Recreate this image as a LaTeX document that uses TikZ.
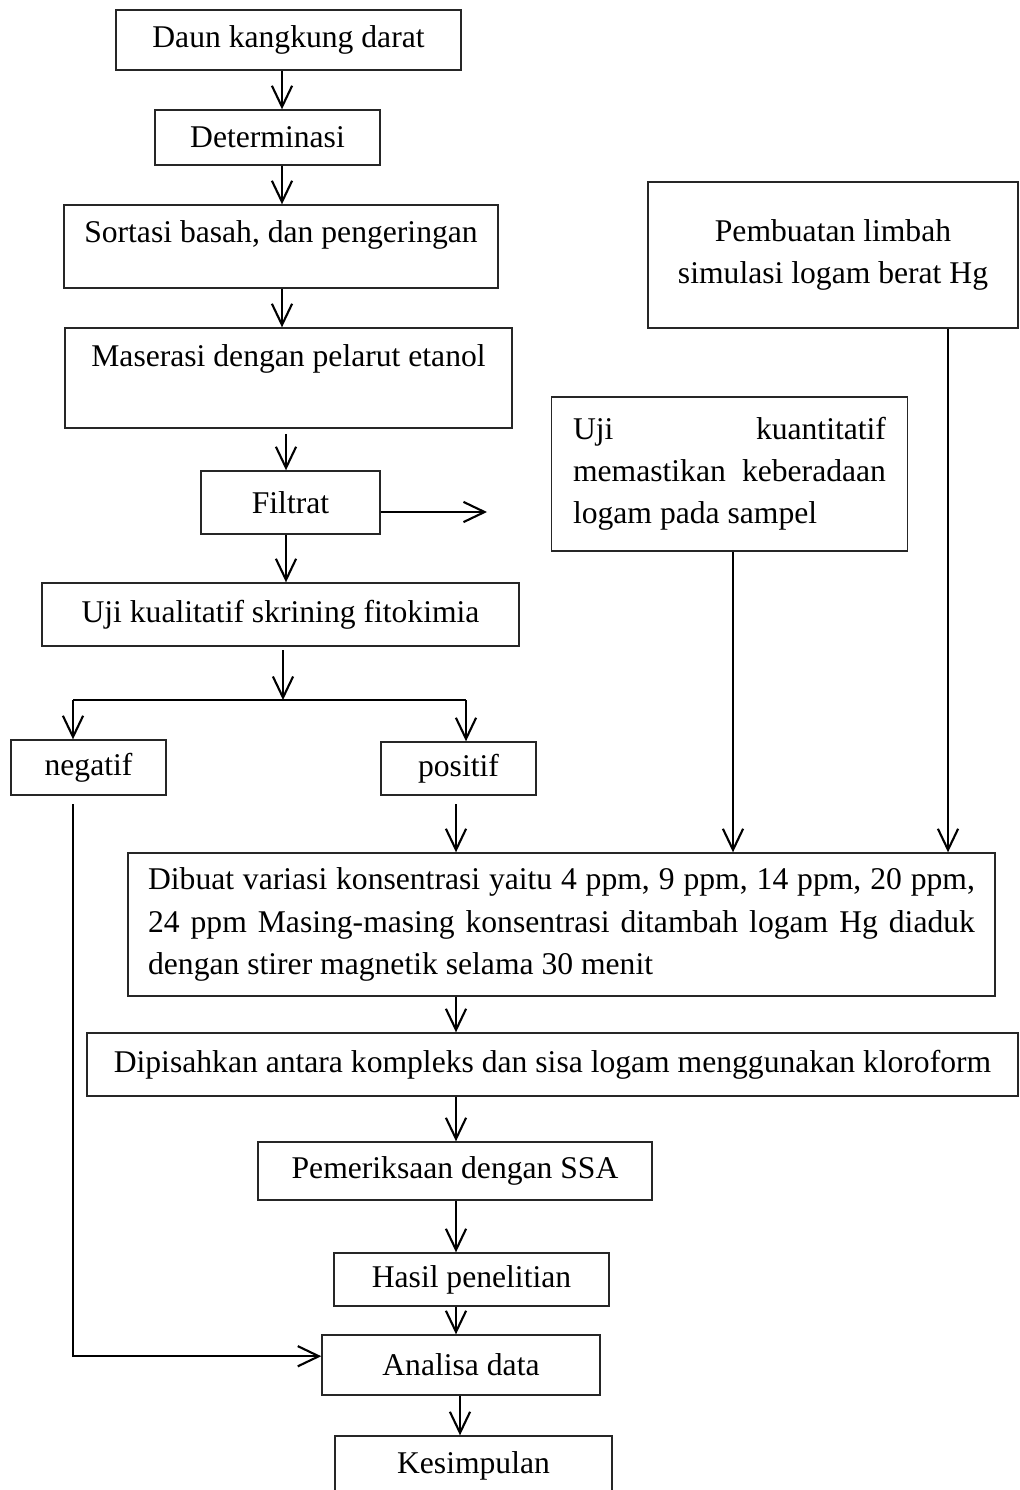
\documentclass[tikz,border=0pt]{standalone}
\usepackage{fontspec}
\setmainfont{Liberation Serif}
\usetikzlibrary{arrows.meta}

\begin{document}
\begin{tikzpicture}[x=0.02cm, y=-0.02cm,
	kotak/.style 2 args={draw=black!85, line width=0.8pt, inner sep=0pt,
		minimum width=#1*0.02cm, minimum height=#2*0.02cm,
		font=\fontsize{18}{24}\selectfont},
	panah/.style={line width=1.2pt, -{Straight Barb[length=12pt,width=11.5pt]}},
	garis/.style={line width=1.2pt}]
	\useasboundingbox (0,0) rectangle (1019,1490);
	% kolom panah
	\coordinate (kolA) at (282,0);
	\coordinate (kolB) at (286,0);
	\coordinate (kolN) at (73,0);
	\coordinate (kolP) at (466,0);
	\coordinate (kolC) at (456,0);
	\coordinate (kolD) at (460,0);
	\coordinate (kolQ) at (733,0);
	\coordinate (kolH) at (948,0);
	\coordinate (cabang) at (283,700);
	\coordinate (keluar) at (487,512);
	% kotak kiri
	\node[kotak={345}{60}] (daun) at (288.5,40) {Daun kangkung darat};
	\node[kotak={225}{55}] (determinasi) at (267.5,137.5) {Determinasi};
	\node[kotak={434}{0}, anchor=base, text height=0.74cm, text depth=0.92cm] (sortasi) at (281,242) {Sortasi basah, dan pengeringan};
	\node[kotak={447}{0}, anchor=base, text height=0.76cm, text depth=1.24cm] (maserasi) at (288.5,366) {Maserasi dengan pelarut etanol};
	\node[kotak={179}{63}] (filtrat) at (290.5,502.5) {Filtrat};
	\node[kotak={477}{63}] (ujiqual) at (280.5,614.5) {Uji kualitatif skrining fitokimia};
	\node[kotak={155}{55}] (negatif) at (88.5,767.5) {negatif};
	\node[kotak={155}{53}] (positif) at (458.5,768.5) {positif};
	% kotak kanan
	\node[kotak={370}{146}, align=center] (pembuatan) at (833,255) {Pembuatan limbah\\simulasi logam berat Hg};
	\node[kotak={356}{154}, text width=6.26cm, align=justify] (kuantitatif) at (729.5,474) {Uji kuantitatif\linebreak memastikan keberadaan\linebreak logam pada sampel};
	% kotak bawah
	\node[kotak={867}{143}, text width=16.54cm, align=justify] (dibuat) at (561.5,924.5) {Dibuat variasi konsentrasi yaitu 4 ppm, 9 ppm, 14 ppm, 20 ppm,\linebreak 24 ppm Masing-masing konsentrasi ditambah logam Hg diaduk\linebreak dengan stirer magnetik selama 30 menit};
	\node[kotak={931}{63}] (dipisahkan) at (552.5,1064.5) {Dipisahkan antara kompleks dan sisa logam menggunakan kloroform};
	\node[kotak={394}{58}] (pemeriksaan) at (455,1171) {Pemeriksaan dengan SSA};
	\node[kotak={275}{53}] (hasil) at (471.5,1279.5) {Hasil penelitian};
	\node[kotak={278}{60}] (analisa) at (461,1365) {Analisa data};
	\node[kotak={277}{60}] (kesimpulan) at (473.5,1466) {Kesimpulan};
	% panah
	\draw[panah] (daun.south -| kolA) -- (determinasi.north -| kolA);
	\draw[panah] (determinasi.south -| kolA) -- (sortasi.north -| kolA);
	\draw[panah] (sortasi.south -| kolA) -- (maserasi.north -| kolA);
	\draw[panah, shorten <=3pt] (maserasi.south -| kolB) -- (filtrat.north -| kolB);
	\draw[panah] (filtrat.south -| kolB) -- (ujiqual.north -| kolB);
	\draw[panah] (filtrat.east |- keluar) -- (keluar);
	\draw[panah, shorten <=2pt] (ujiqual.south -| cabang) -- (cabang);
	\draw[garis] (cabang -| kolN) -- (cabang -| kolP);
	\draw[panah] (cabang -| kolN) -- (negatif.north -| kolN);
	\draw[panah] (cabang -| kolP) -- (positif.north -| kolP);
	\draw[panah, shorten <=5pt] (negatif.south -| kolN) |- ([yshift=5pt]analisa.west);
	\draw[panah, shorten <=5pt] (positif.south -| kolC) -- (dibuat.north -| kolC);
	\draw[panah] (kuantitatif.south -| kolQ) -- (dibuat.north -| kolQ);
	\draw[panah] (pembuatan.south -| kolH) -- (dibuat.north -| kolH);
	\draw[panah] (dibuat.south -| kolC) -- (dipisahkan.north -| kolC);
	\draw[panah] (dipisahkan.south -| kolC) -- (pemeriksaan.north -| kolC);
	\draw[panah] (pemeriksaan.south -| kolC) -- (hasil.north -| kolC);
	\draw[panah] (hasil.south -| kolC) -- (analisa.north -| kolC);
	\draw[panah] (analisa.south -| kolD) -- (kesimpulan.north -| kolD);
\end{tikzpicture}
\end{document}
